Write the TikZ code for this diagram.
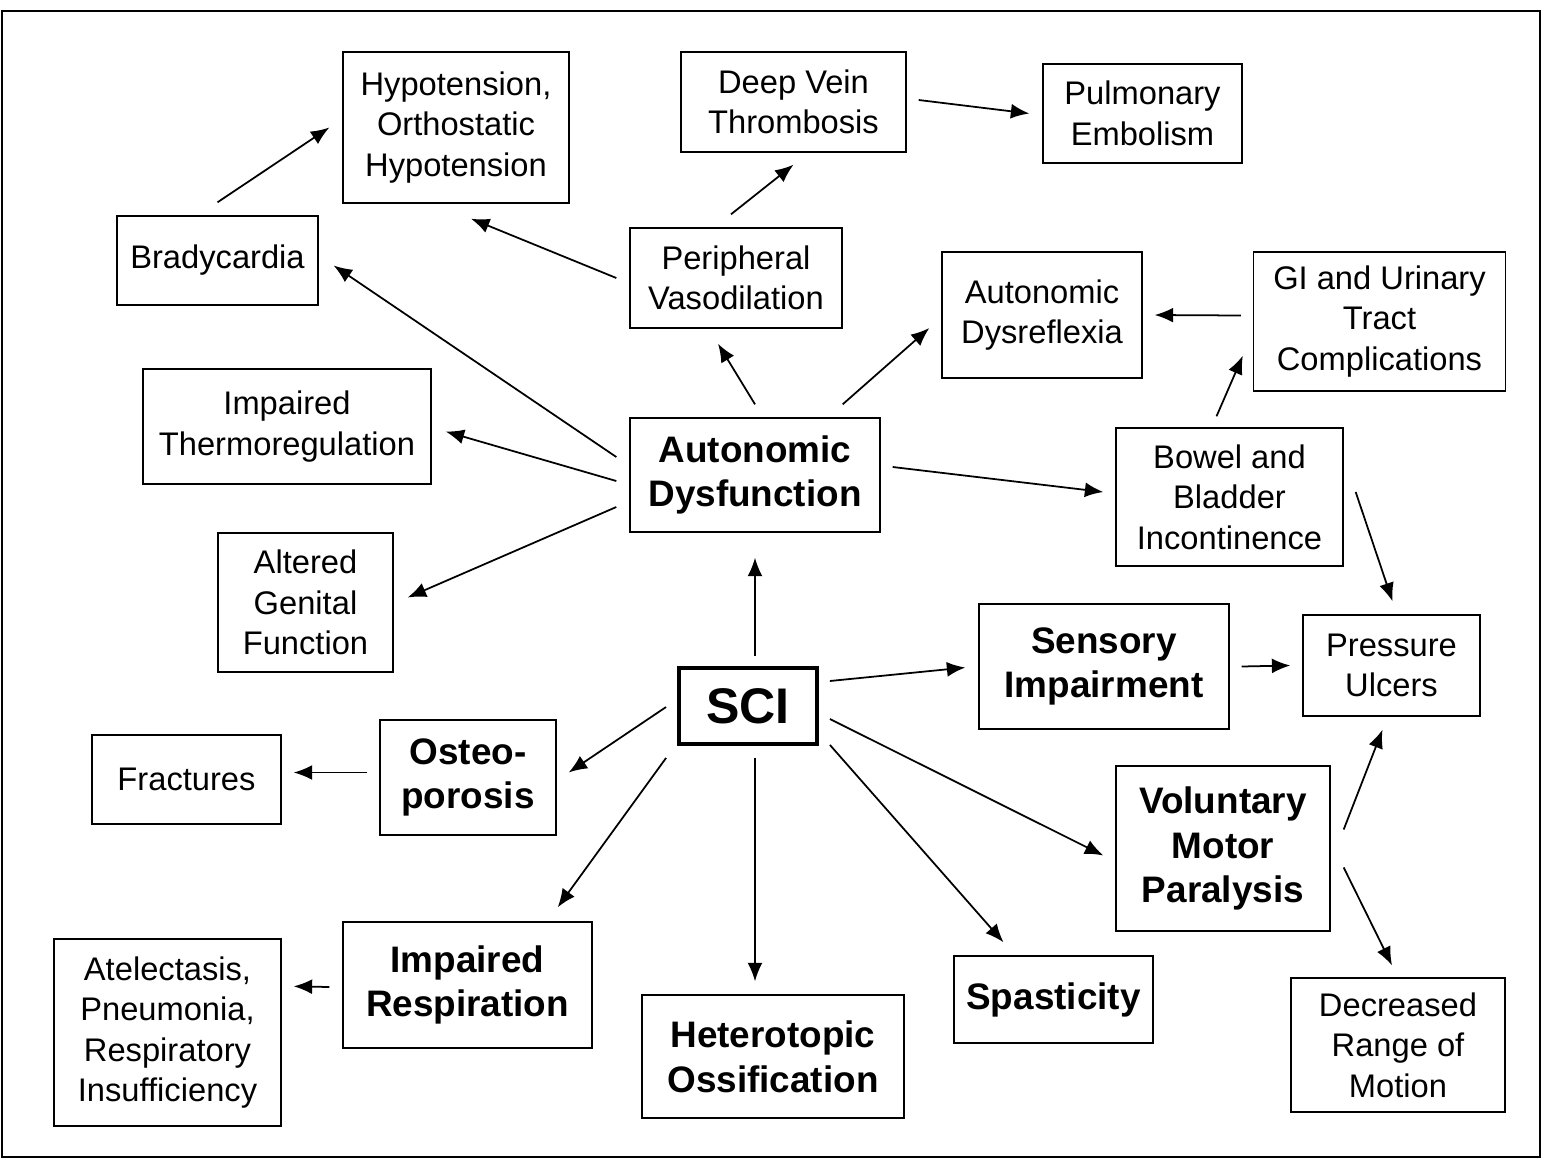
\documentclass[tikz,border=0pt]{standalone}
\usepackage{fontspec}
\setmainfont{Liberation Sans}
\usetikzlibrary{arrows.meta}

\begin{document}
\begin{tikzpicture}[x=0.02cm,y=-0.02cm,
        box/.style={draw,line width=0.8pt,align=center,inner sep=1pt,font=\fontsize{18.6}{23}\selectfont},
        boldbox/.style={box,font=\fontsize{21}{25.5}\selectfont\bfseries},
        arr/.style={-{Latex[length=10.5pt,width=8.5pt]},line width=1pt}]
                \useasboundingbox (0,0) rectangle (1546,1167);
                \draw[line width=1.2pt] (2,11) rectangle (1540,1157);
                % upper part
                \node[box,minimum width=4.52cm,minimum height=3.02cm] (hypo) at (456,127.5) {Hypotension,\\Orthostatic\\Hypotension};
                \node[box,minimum width=4.5cm,minimum height=2cm] (dvt) at (793.5,102) {Deep Vein\\Thrombosis};
                \node[box,minimum width=3.98cm,minimum height=1.98cm] (pe) at (1142.5,113.5) {Pulmonary\\Embolism};
                \node[box,minimum width=4.02cm,minimum height=1.78cm] (brady) at (217.5,260.5) {Bradycardia};
                \node[box,minimum width=4.24cm,minimum height=2cm] (periph) at (736,278) {Peripheral\\Vasodilation};
                \node[box,minimum width=4cm,minimum height=2.52cm] (dysref) at (1042,315) {Autonomic\\Dysreflexia};
                \node[box,minimum width=5.04cm,minimum height=2.78cm] (gi) at (1379.5,321.5) {GI and Urinary\\Tract\\Complications};
                \node[box,minimum width=5.76cm,minimum height=2.3cm] (thermo) at (287,426.5) {Impaired\\Thermoregulation};
                \node[boldbox,minimum width=5cm,minimum height=2.28cm] (autodys) at (755,475) {Autonomic\\Dysfunction};
                \node[box,minimum width=4.54cm,minimum height=2.76cm] (bowel) at (1229.5,497) {Bowel and\\Bladder\\Incontinence};
                \node[box,minimum width=3.5cm,minimum height=2.78cm] (genital) at (305.5,602.5) {Altered\\Genital\\Function};
                % middle and lower part
                \node[boldbox,minimum width=5cm,minimum height=2.5cm] (sensory) at (1104,666.5) {Sensory\\Impairment};
                \node[box,minimum width=3.54cm,minimum height=2.02cm] (pressure) at (1391.5,665.5) {Pressure\\Ulcers};
                \node[draw,line width=2.2pt,minimum width=2.76cm,minimum height=1.52cm,font=\fontsize{28.5}{34}\selectfont\bfseries] (sci) at (748,706) {SCI};
                \node[box,minimum width=3.78cm,minimum height=1.78cm] (fract) at (186.5,779.5) {Fractures};
                \node[boldbox,minimum width=3.52cm,minimum height=2.3cm] (osteo) at (468,777.5) {Osteo-\\porosis};
                \node[boldbox,minimum width=4.28cm,minimum height=3.3cm] (motor) at (1223,848.5) {Voluntary\\Motor\\Paralysis};
                \node[box,minimum width=4.54cm,minimum height=3.74cm] (atel) at (167.5,1032.5) {Atelectasis,\\Pneumonia,\\Respiratory\\Insufficiency};
                \node[boldbox,minimum width=4.98cm,minimum height=2.52cm] (resp) at (467.5,985) {Impaired\\Respiration};
                \node[boldbox,minimum width=5.24cm,minimum height=2.46cm] (hetero) at (773,1056.5) {Heterotopic\\Ossification};
                \node[boldbox,minimum width=3.98cm,minimum height=1.74cm] (spast) at (1053.5,999.5) {Spasticity};
                \node[box,minimum width=4.28cm,minimum height=2.68cm] (drom) at (1398,1045) {Decreased\\Range of\\Motion};
                % arrows
                \draw[arr] ([shift={(0,-13)}]brady.north) -- ([shift={(-13,0)}]hypo.west);
                \draw[arr] ([shift={(-13,0)}]periph.west) -- ([shift={(15,15)}]hypo.south);
                \draw[arr] ([shift={(-5,-13)}]periph.north) -- ([shift={(0,12)}]dvt.south);
                \draw[arr] ([shift={(12,-2)}]dvt.east) -- ([shift={(-13,0)}]pe.west);
                \draw[arr] ([shift={(-13,-18)}]autodys.west) -- ([shift={(15,5)}]brady.east);
                \draw[arr] ([shift={(-13,6)}]autodys.west) -- ([shift={(14,5)}]thermo.east);
                \draw[arr] ([shift={(-13,32)}]autodys.west) -- ([shift={(14,-5)}]genital.east);
                \draw[arr] ([shift={(0,-13)}]autodys.north) -- ([shift={(-18,15)}]periph.south);
                \draw[arr] ([shift={(-38,-13)}]autodys.north east) -- ([shift={(-12,13)}]dysref.west);
                \draw[arr] ([shift={(12,-8)}]autodys.east) -- ([shift={(-12,-5)}]bowel.west);
                \draw[arr] ([shift={(-12,-6)}]gi.west) -- ([shift={(12,0)}]dysref.east);
                \draw[arr] ([shift={(-13,-11)}]bowel.north) -- ([shift={(-10,-36)}]gi.south west);
                \draw[arr] ([shift={(12,-5)}]bowel.east) -- ([shift={(1,-13)}]pressure.north);
                \draw[arr] ([shift={(7,-10)}]sci.north) -- ([shift={(0,25)}]autodys.south);
                \draw[arr] ([shift={(11,-25)}]sci.east) -- ([shift={(-13,1)}]sensory.west);
                \draw[arr] ([shift={(12,0)}]sensory.east) -- ([shift={(-12,0)}]pressure.west);
                \draw[arr] ([shift={(-11,1)}]sci.west) -- ([shift={(12,-5)}]osteo.east);
                \draw[arr] ([shift={(-12,-5)}]osteo.west) -- ([shift={(12,-7)}]fract.east);
                \draw[arr] ([shift={(-11,12)}]sci.south west) -- ([shift={(-35,-14)}]resp.north east);
                \draw[arr] ([shift={(-13,2)}]resp.west) -- ([shift={(12,48)}]atel.north east);
                \draw[arr] ([shift={(7,12)}]sci.south) -- ([shift={(-18,-13)}]hetero.north);
                \draw[arr] ([shift={(11,-1)}]sci.south east) -- ([shift={(-50,-13)}]spast.north);
                \draw[arr] ([shift={(11,13)}]sci.east) -- ([shift={(-12,7)}]motor.west);
                \draw[arr] ([shift={(13,-19)}]motor.east) -- ([shift={(-9,13)}]pressure.south);
                \draw[arr] ([shift={(13,19)}]motor.east) -- ([shift={(-6,-12)}]drom.north);
            \end{tikzpicture}
\end{document}
